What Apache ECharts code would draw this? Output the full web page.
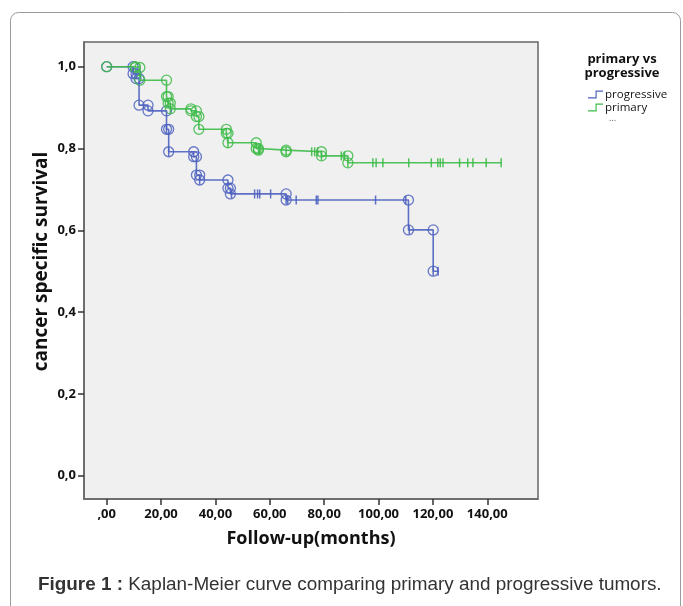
<!DOCTYPE html>
<html>
<head>
<meta charset="utf-8">
<script src="https://cdn.jsdelivr.net/npm/echarts@6/dist/echarts.min.js"></script>
<style>
  html, body { margin: 0; padding: 0; background: #fff; }
  #chart { width: 683px; height: 606px; }
</style>
</head>
<body>
<div id="chart"></div>
<script>
// tick labels
const xTicks = [0, 20, 40, 60, 80, 100, 120, 140];
const yTicks = [0, 0.2, 0.4, 0.6, 0.8, 1.0];

// Kaplan-Meier step vertices [months, survival] (value after each drop, last = end of follow-up)
const progressiveSteps = [
  [0, 1.0], [9.7, 0.983], [10.8, 0.971], [11.9, 0.906], [15.2, 0.892],
  [22.0, 0.847], [22.8, 0.792], [32.0, 0.780], [33.0, 0.735], [34.2, 0.723],
  [44.6, 0.703], [45.5, 0.689], [66.0, 0.674], [111.0, 0.601], [120.1, 0.5],
  [121.9, 0.5]
];
const primarySteps = [
  [0, 1.0], [10.5, 0.998], [12.2, 0.967], [22.0, 0.927], [22.6, 0.911],
  [23.4, 0.897], [31.0, 0.892], [33.0, 0.878], [33.9, 0.847], [44.0, 0.837],
  [44.6, 0.814], [55.0, 0.800], [55.8, 0.796], [66.0, 0.792], [79.0, 0.782],
  [88.7, 0.765], [145.1, 0.765]
];

// censored cases (+)
const progressiveCensored = [
  [22.0, 0.847], [22.8, 0.792], [34.2, 0.723], [45.9, 0.689], [54.4, 0.689],
  [55.5, 0.689], [56.3, 0.689], [60.3, 0.689], [66.0, 0.674], [66.6, 0.674],
  [69.7, 0.674], [77.1, 0.674], [77.7, 0.674], [98.9, 0.674], [110.0, 0.674],
  [111.3, 0.601], [120.1, 0.5], [121.9, 0.5]
];
const primaryCensored = [
  [22.6, 0.911], [23.4, 0.897], [44.6, 0.814], [55.8, 0.796], [56.3, 0.796],
  [66.0, 0.792], [75.4, 0.792], [76.5, 0.792], [77.6, 0.792], [79.0, 0.782],
  [86.3, 0.782], [87.5, 0.782], [88.7, 0.765], [97.9, 0.765], [99.1, 0.765],
  [101.6, 0.765], [111.1, 0.765], [119.4, 0.765], [121.8, 0.765], [122.7, 0.765],
  [123.7, 0.765], [129.8, 0.765], [132.8, 0.765], [134.7, 0.765], [139.6, 0.765],
  [145.1, 0.765]
];

const blue = "#4c62c0";
const green = "#3dbb48";
const font = "Open Sans";

// circle markers at both corners of each drop
function corners(steps) {
  let out = [steps[0]];
  for (let i = 1; i < steps.length; i++) {
    if (steps[i][1] < steps[i - 1][1]) {
      out.push([steps[i][0], steps[i - 1][1]]);
      out.push(steps[i]);
    }
  }
  return out;
}

function fmtX(v) {
  let s = v.toFixed(2).replace(".", ",");
  return s.indexOf("0,") === 0 ? s.slice(1) : s;
}

let myChart = echarts.init(document.getElementById("chart"));
let option = {
  backgroundColor: "#fff",
  animation: false,
  title: [
    {
      text: "primary vs\nprogressive",
      left: 617,
      top: 47,
      textAlign: "center",
      textStyle: { fontFamily: font, fontSize: 13, fontWeight: "bold", color: "#111", lineHeight: 14 }
    },
    {
      text: "...",
      left: 604,
      top: 109,
      textStyle: { fontFamily: font, fontSize: 9, fontWeight: "normal", color: "#555" }
    },
    {
      text: "{b|Figure 1 :} Kaplan-Meier curve comparing primary and progressive tumors.",
      left: 33,
      top: 570,
      textStyle: {
        fontFamily: "Liberation Sans",
        fontSize: 18.9,
        fontWeight: "normal",
        color: "#333",
        rich: { b: { fontFamily: "Liberation Sans", fontSize: 18.9, fontWeight: "bold", color: "#333" } }
      }
    }
  ],
  legend: {
    orient: "vertical",
    left: 583,
    top: 83,
    itemWidth: 15,
    itemHeight: 9,
    itemGap: 0,
    textStyle: { fontFamily: font, fontSize: 11.5, lineHeight: 13, color: "#111", padding: [0, 0, 0, -3] },
    data: [
      { name: "progressive", icon: "path://M0,8 L9,8 L9,0 L18,0 L18,1.4 L10.4,1.4 L10.4,9.4 L0,9.4 Z", itemStyle: { color: blue } },
      { name: "primary", icon: "path://M0,8 L9,8 L9,0 L18,0 L18,1.4 L10.4,1.4 L10.4,9.4 L0,9.4 Z", itemStyle: { color: green } }
    ]
  },
  graphic: [
    {
      type: "rect",
      silent: true,
      shape: { x: 10.5, y: 12.5, width: 670, height: 640, r: 8 },
      style: { fill: null, stroke: "#9a9a9a", lineWidth: 1 }
    }
  ],
  grid: {
    left: 84,
    top: 42,
    width: 454,
    height: 457,
    show: true,
    backgroundColor: "#f0f0f0",
    borderColor: "#666",
    borderWidth: 1.5
  },
  xAxis: {
    type: "value",
    min: -8.35,
    max: 158.65,
    name: "Follow-up(months)",
    nameLocation: "middle",
    nameGap: 31,
    nameTextStyle: { fontFamily: font, fontSize: 18, fontWeight: "bold", color: "#111" },
    axisLine: { show: true, onZero: false, lineStyle: { color: "#666", width: 1.5 } },
    splitLine: { show: false },
    axisTick: { show: true, length: 6, customValues: xTicks, lineStyle: { color: "#333", width: 1.5 } },
    axisLabel: {
      customValues: xTicks,
      margin: 9,
      fontFamily: font,
      fontSize: 13,
      fontWeight: "bold",
      color: "#111",
      formatter: fmtX
    }
  },
  yAxis: {
    type: "value",
    min: -0.057,
    max: 1.0604,
    name: "cancer specific survival",
    nameLocation: "middle",
    nameRotate: 90,
    nameGap: 33,
    nameMoveOverlap: false,
    nameTextStyle: { fontFamily: font, fontSize: 19, fontWeight: "bold", color: "#111", padding: [0, 0, 0, 18] },
    axisLine: { show: true, onZero: false, lineStyle: { color: "#666", width: 1.5 } },
    splitLine: { show: false },
    axisTick: { show: true, length: 6, customValues: yTicks, lineStyle: { color: "#333", width: 1.5 } },
    axisLabel: {
      customValues: yTicks,
      margin: 8,
      fontFamily: font,
      fontSize: 13,
      fontWeight: "bold",
      color: "#111",
      formatter: (v) => v.toFixed(1).replace(".", ",")
    }
  },
  series: [
    {
      name: "progressive",
      type: "line",
      step: "end",
      showSymbol: false,
      lineStyle: { color: blue, width: 1.6, opacity: 0.9 },
      itemStyle: { color: blue },
      data: progressiveSteps
    },
    {
      name: "primary",
      type: "line",
      step: "end",
      showSymbol: false,
      lineStyle: { color: green, width: 1.6, opacity: 0.9 },
      itemStyle: { color: green },
      data: primarySteps
    },
    {
      name: "progressive-events",
      type: "scatter",
      symbol: "circle",
      symbolSize: 10,
      itemStyle: { color: "rgba(0,0,0,0)", borderColor: blue, borderWidth: 1.3, opacity: 0.85 },
      data: corners(progressiveSteps)
    },
    {
      name: "primary-events",
      type: "scatter",
      symbol: "circle",
      symbolSize: 10,
      itemStyle: { color: "rgba(0,0,0,0)", borderColor: green, borderWidth: 1.3, opacity: 0.85 },
      data: corners(primarySteps)
    },
    {
      name: "progressive-censored",
      type: "scatter",
      symbol: "rect",
      symbolSize: [1.5, 9],
      itemStyle: { color: blue, opacity: 0.9 },
      data: progressiveCensored
    },
    {
      name: "primary-censored",
      type: "scatter",
      symbol: "rect",
      symbolSize: [1.5, 9],
      itemStyle: { color: green, opacity: 0.9 },
      data: primaryCensored
    }
  ]
};
myChart.setOption(option);
</script>
</body>
</html>
